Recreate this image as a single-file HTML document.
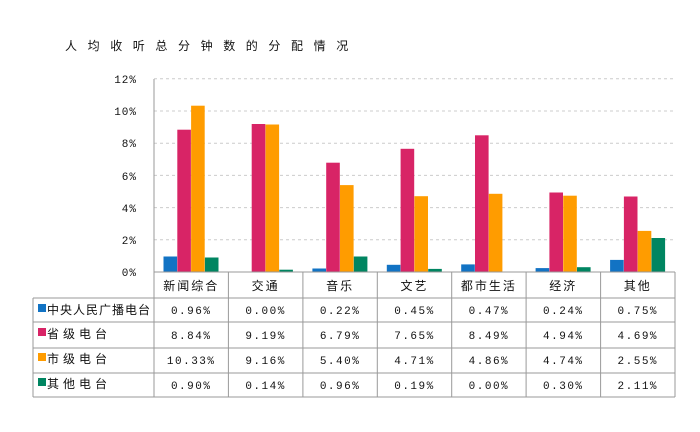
<!DOCTYPE html>
<html><head><meta charset="utf-8"><style>
html,body{margin:0;padding:0;background:#fff;width:700px;height:432px;overflow:hidden}
text{font-family:"Liberation Mono","Noto Sans CJK SC",monospace;font-size:11px;fill:#111}
.c{font-family:"Liberation Sans","Noto Sans CJK SC",sans-serif;font-size:12px;letter-spacing:2px}
</style></head><body>
<svg width="700" height="432" xmlns="http://www.w3.org/2000/svg">
<text x="65" y="50" class="c" style="letter-spacing:10.6px;font-size:12px">人均收听总分钟数的分配情况</text>
<g stroke="#ccc" stroke-dasharray="3,3" stroke-width="1">
<line x1="154" x2="675" y1="239.8" y2="239.8"/><line x1="154" x2="675" y1="207.6" y2="207.6"/>
<line x1="154" x2="675" y1="175.4" y2="175.4"/><line x1="154" x2="675" y1="143.2" y2="143.2"/>
<line x1="154" x2="675" y1="111" y2="111"/><line x1="154" x2="675" y1="78.8" y2="78.8"/>
</g>
<g text-anchor="end" style="letter-spacing:1px">
<text x="137" y="276">0%</text><text x="137" y="244">2%</text><text x="137" y="212">4%</text>
<text x="137" y="180">6%</text><text x="137" y="147">8%</text><text x="137" y="115">10%</text><text x="137" y="83">12%</text>
</g>
<g>
<rect x="163.5" y="256.5" width="13.6" height="15.5" fill="#1273c4"/><rect x="177.3" y="129.7" width="13.6" height="142.3" fill="#d82466"/><rect x="191.1" y="105.7" width="13.6" height="166.3" fill="#ff9c00"/><rect x="204.9" y="257.5" width="13.6" height="14.5" fill="#008561"/>
<rect x="251.7" y="124" width="13.6" height="148" fill="#d82466"/><rect x="265.5" y="124.5" width="13.6" height="147.5" fill="#ff9c00"/><rect x="279.3" y="269.7" width="13.6" height="2.3" fill="#008561"/>
<rect x="312.4" y="268.5" width="13.6" height="3.5" fill="#1273c4"/><rect x="326.2" y="162.7" width="13.6" height="109.3" fill="#d82466"/><rect x="340" y="185.1" width="13.6" height="86.9" fill="#ff9c00"/><rect x="353.8" y="256.5" width="13.6" height="15.5" fill="#008561"/>
<rect x="386.8" y="264.8" width="13.6" height="7.2" fill="#1273c4"/><rect x="400.6" y="148.8" width="13.6" height="123.2" fill="#d82466"/><rect x="414.4" y="196.2" width="13.6" height="75.8" fill="#ff9c00"/><rect x="428.2" y="268.9" width="13.6" height="3.1" fill="#008561"/>
<rect x="461.2" y="264.4" width="13.6" height="7.6" fill="#1273c4"/><rect x="475" y="135.3" width="13.6" height="136.7" fill="#d82466"/><rect x="488.8" y="193.8" width="13.6" height="78.2" fill="#ff9c00"/>
<rect x="535.6" y="268.1" width="13.6" height="3.9" fill="#1273c4"/><rect x="549.4" y="192.5" width="13.6" height="79.5" fill="#d82466"/><rect x="563.2" y="195.7" width="13.6" height="76.3" fill="#ff9c00"/><rect x="577" y="267.2" width="13.6" height="4.8" fill="#008561"/>
<rect x="610.1" y="259.9" width="13.6" height="12.1" fill="#1273c4"/><rect x="623.9" y="196.5" width="13.6" height="75.5" fill="#d82466"/><rect x="637.7" y="230.9" width="13.6" height="41.1" fill="#ff9c00"/><rect x="651.5" y="238" width="13.6" height="34" fill="#008561"/>
</g>
<g stroke="#999" stroke-width="1" fill="none">
<line x1="154" y1="79" x2="154" y2="397"/>
<line x1="154" y1="272" x2="675" y2="272"/>
<line x1="33" y1="298" x2="675" y2="298"/><line x1="33" y1="322" x2="675" y2="322"/>
<line x1="33" y1="348" x2="675" y2="348"/><line x1="33" y1="373" x2="675" y2="373"/><line x1="33" y1="397" x2="675" y2="397"/>
<line x1="33" y1="298" x2="33" y2="397"/>
<line x1="228.4" y1="272" x2="228.4" y2="397"/><line x1="302.9" y1="272" x2="302.9" y2="397"/>
<line x1="377.3" y1="272" x2="377.3" y2="397"/><line x1="451.7" y1="272" x2="451.7" y2="397"/>
<line x1="526.1" y1="272" x2="526.1" y2="397"/><line x1="600.6" y1="272" x2="600.6" y2="397"/>
<line x1="675" y1="272" x2="675" y2="397"/>
</g>
<g class="c" text-anchor="middle">
<text class="c" x="191.2" y="290">新闻综合</text><text class="c" x="265.6" y="290">交通</text><text class="c" x="340.1" y="290">音乐</text>
<text class="c" x="414.5" y="290">文艺</text><text class="c" x="488.9" y="290">都市生活</text><text class="c" x="563.3" y="290">经济</text><text class="c" x="637.8" y="290">其他</text>
</g>
<rect x="38" y="304" width="8" height="8" fill="#1273c4"/><text class="c" x="47" y="314" style="letter-spacing:1px">中央人民广播电台</text>
<rect x="38" y="328" width="8" height="8" fill="#d82466"/><text class="c" x="47" y="338" style="letter-spacing:4px">省级电台</text>
<rect x="38" y="353" width="8" height="8" fill="#ff9c00"/><text class="c" x="47" y="363" style="letter-spacing:4px">市级电台</text>
<rect x="38" y="378" width="8" height="8" fill="#008561"/><text class="c" x="47" y="388" style="letter-spacing:4px">其他电台</text>
<g text-anchor="middle" style="letter-spacing:1.5px">
<text x="191.2" y="314">0.96%</text><text x="265.6" y="314">0.00%</text><text x="340.1" y="314">0.22%</text><text x="414.5" y="314">0.45%</text><text x="488.9" y="314">0.47%</text><text x="563.3" y="314">0.24%</text><text x="637.8" y="314">0.75%</text>
<text x="191.2" y="339">8.84%</text><text x="265.6" y="339">9.19%</text><text x="340.1" y="339">6.79%</text><text x="414.5" y="339">7.65%</text><text x="488.9" y="339">8.49%</text><text x="563.3" y="339">4.94%</text><text x="637.8" y="339">4.69%</text>
<text x="191.2" y="364">10.33%</text><text x="265.6" y="364">9.16%</text><text x="340.1" y="364">5.40%</text><text x="414.5" y="364">4.71%</text><text x="488.9" y="364">4.86%</text><text x="563.3" y="364">4.74%</text><text x="637.8" y="364">2.55%</text>
<text x="191.2" y="389">0.90%</text><text x="265.6" y="389">0.14%</text><text x="340.1" y="389">0.96%</text><text x="414.5" y="389">0.19%</text><text x="488.9" y="389">0.00%</text><text x="563.3" y="389">0.30%</text><text x="637.8" y="389">2.11%</text>
</g>
</svg>
</body></html>
